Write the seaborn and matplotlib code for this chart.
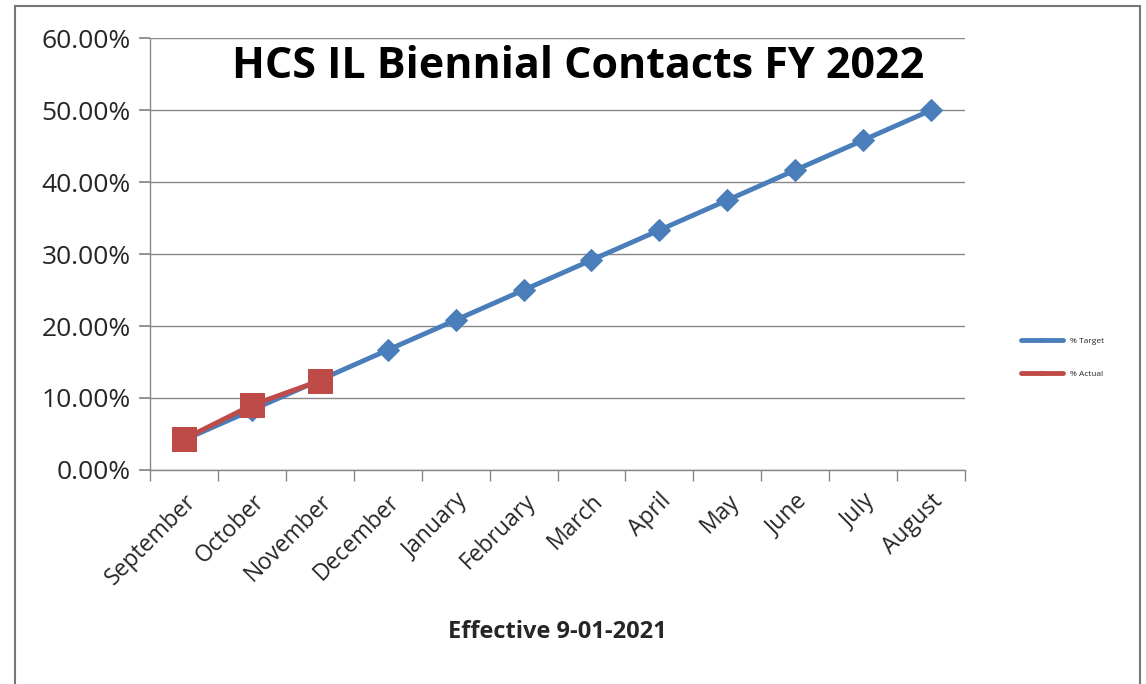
import pandas as pd
import matplotlib
matplotlib.use('Agg')
import matplotlib.pyplot as plt
import seaborn as sns
from matplotlib.patches import Rectangle
from matplotlib.ticker import FuncFormatter, FixedLocator

months = ['September', 'October', 'November', 'December', 'January', 'February',
          'March', 'April', 'May', 'June', 'July', 'August']
target = [4.17, 8.33, 12.5, 16.67, 20.83, 25.0, 29.17, 33.33, 37.5, 41.67, 45.83, 50.0]
actual = [4.3, 9.0, 12.4]

sns.set_theme(style='white')
plt.rcParams['font.family'] = ['Open Sans', 'DejaVu Sans']

df_target = pd.DataFrame({'pos': range(len(months)), 'val': target})
df_actual = pd.DataFrame({'pos': range(len(actual)), 'val': actual})

fig = plt.figure(figsize=(11.46, 6.84), dpi=100)
ax = fig.add_axes([0.131, 0.313, 0.711, 0.631])

blue = '#4A7EBB'
red = '#BE4B48'

sns.lineplot(data=df_target, x='pos', y='val', ax=ax, color=blue, lw=3.5,
             marker='D', markersize=11, markeredgecolor=blue, label='% Target')
sns.lineplot(data=df_actual, x='pos', y='val', ax=ax, color=red, lw=3.5,
             marker='s', markersize=17, markeredgecolor=red, label='% Actual')

ax.set_xlim(-0.5, len(months) - 0.5)
ax.set_ylim(0, 60)
ax.set_yticks(range(0, 61, 10))
ax.yaxis.set_major_formatter(FuncFormatter(lambda v, p: f'{v:.2f}%'))
ax.grid(axis='y', color='#888888', lw=1)
ax.set_axisbelow(True)

ax.set_xticks(range(len(months)))
ax.set_xticklabels(months, rotation=45, ha='right', rotation_mode='anchor', fontsize=16.5)
ax.xaxis.set_minor_locator(FixedLocator([i - 0.5 for i in range(len(months) + 1)]))
ax.tick_params(axis='x', which='major', length=0, pad=14)
ax.tick_params(axis='x', which='minor', length=8, color='#888888', width=1, bottom=True)
ax.tick_params(axis='y', labelsize=19, length=8, color='#888888', left=True, pad=6)

for s in ['top', 'right']:
    ax.spines[s].set_visible(False)
for s in ['left', 'bottom']:
    ax.spines[s].set_color('#888888')
    ax.spines[s].set_linewidth(1)

ax.set_xlabel('Effective 9-01-2021', fontsize=17, fontweight='bold', labelpad=22)
ax.set_ylabel('')
ax.text(0.525, 0.985, 'HCS IL Biennial Contacts FY 2022', transform=ax.transAxes,
        ha='center', va='top', fontsize=31, fontweight='bold', color='black')

leg = ax.legend(loc='center left', bbox_to_anchor=(1.06, 0.26), frameon=False,
                fontsize=6, handlelength=5, labelspacing=3.0, markerscale=0.2)

fig.patches.append(Rectangle((15 / 1146, -0.05), 1125 / 1146, 1 - 6 / 684 + 0.05,
                             transform=fig.transFigure, fill=False,
                             edgecolor='#777777', lw=1.5))

fig.savefig('out.png', dpi=100)
